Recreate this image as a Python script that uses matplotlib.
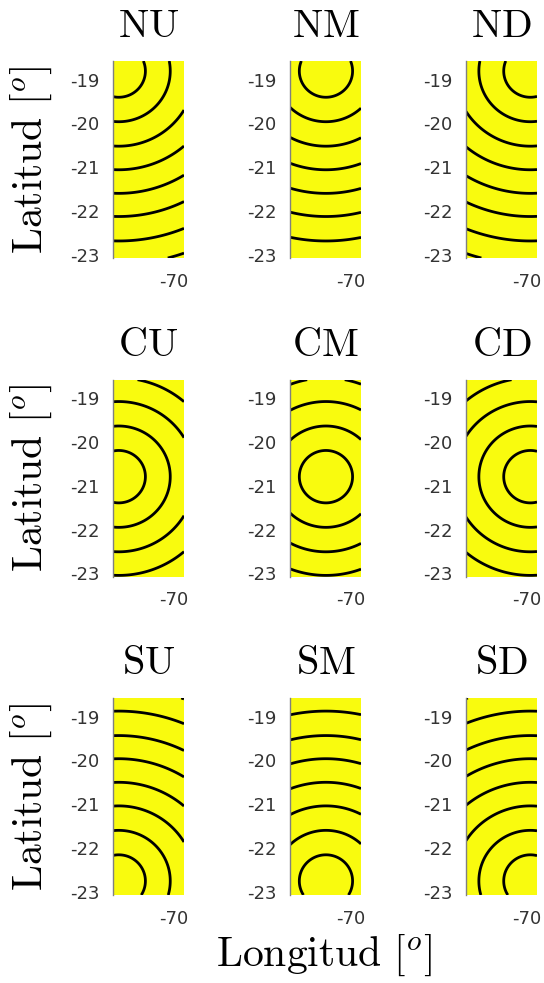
import numpy as np
import matplotlib
matplotlib.use('Agg')
import matplotlib.pyplot as plt

plt.rcParams['mathtext.fontset'] = 'cm'

# ---- data ----
titles = [['NU', 'NM', 'ND'],
          ['CU', 'CM', 'CD'],
          ['SU', 'SM', 'SD']]
center_lon = [-71.23, -70.55, -69.91]   # U, M, D
center_lat = [-18.80, -20.79, -22.76]   # N, C, S
levels = [0.60, 1.16, 1.72, 2.26, 2.80, 3.33, 3.89, 4.42, 4.96]
lon_lim = (-71.36, -69.76)
lat_lim = (-23.08, -18.57)
yticks = [-19, -20, -21, -22, -23]
ytick_labels = ['-19', '-20', '-21', '-22', '-23']
xticks = [-70]
xtick_labels = ['-70']

W, H = 544, 983
fig = plt.figure(figsize=(W / 100, H / 100), dpi=100)

yellow = '#f9fb0e'
col_left_px = [113, 290, 466]
row_bottom_px = [258, 576.7, 895]
ax_w_px, ax_h_px = 71, 197

lon = np.linspace(lon_lim[0], lon_lim[1], 300)
lat = np.linspace(lat_lim[0], lat_lim[1], 800)
LON, LAT = np.meshgrid(lon, lat)

for r in range(3):
    for c in range(3):
        ax = fig.add_axes([col_left_px[c] / W, 1 - row_bottom_px[r] / H,
                           ax_w_px / W, ax_h_px / H])
        ax.set_facecolor(yellow)
        Z = np.hypot(LON - center_lon[c], LAT - center_lat[r])
        ax.contour(LON, LAT, Z, levels=levels, colors='k', linewidths=2.0)
        ax.set_xlim(*lon_lim)
        ax.set_ylim(*lat_lim)
        ax.set_yticks(yticks)
        ax.set_yticklabels(ytick_labels)
        ax.set_xticks(xticks)
        ax.set_xticklabels(xtick_labels)
        ax.tick_params(axis='y', length=0, pad=9.5, labelsize=13, labelcolor='#333333')
        ax.tick_params(axis='x', length=0, pad=10.5, labelsize=13, labelcolor='#333333')
        for s in ['top', 'right', 'bottom']:
            ax.spines[s].set_visible(False)
        ax.spines['left'].set_color('#808080')
        ax.spines['left'].set_linewidth(1.0)
        ax.set_title(r'$\mathrm{%s}$' % titles[r][c], fontsize=29, pad=17)
    yc = 1 - (row_bottom_px[r] - ax_h_px / 2) / H
    fig.text(31 / W, yc, r'$\mathrm{Latitud}\ [^o]$', rotation=90,
             ha='center', va='center', fontsize=30)

fig.text(324 / W, 1 - 955 / H, r'$\mathrm{Longitud}\ [^o]$',
         ha='center', va='center', fontsize=30)

fig.savefig('out.png', dpi=100)
